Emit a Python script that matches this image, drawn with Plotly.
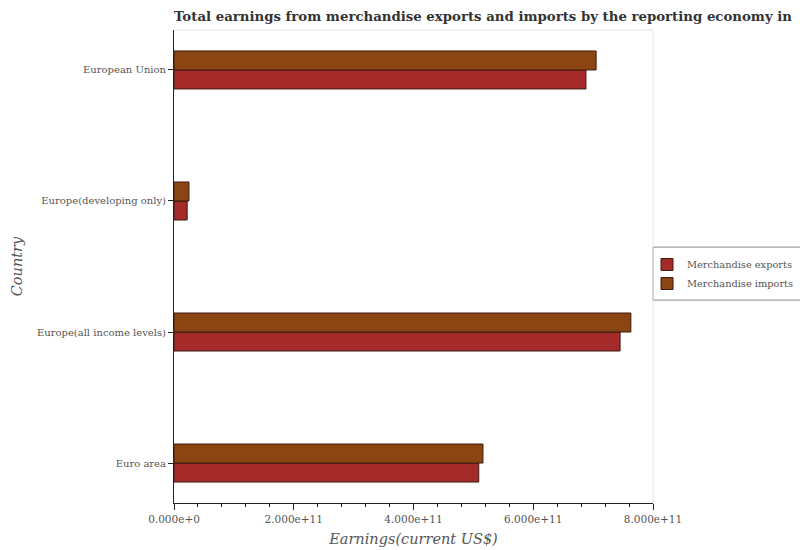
import plotly.graph_objects as go

countries = ['Euro area', 'Europe(all income levels)', 'Europe(developing only)', 'European Union']
exports = [5.09e11, 7.45e11, 0.22e11, 6.88e11]
imports = [5.16e11, 7.63e11, 0.25e11, 7.05e11]

font_family = 'DejaVu Serif'

W, H = 800, 550

fig = go.Figure()

fig.add_trace(go.Bar(
    y=countries,
    x=exports,
    orientation='h',
    name='Merchandise exports',
    marker=dict(color='#A52A2A', line=dict(color='#3a1a10', width=1))
))
fig.add_trace(go.Bar(
    y=countries,
    x=imports,
    orientation='h',
    name='Merchandise imports',
    marker=dict(color='#8B4513', line=dict(color='#3a1a10', width=1))
))

# light frame on top and right edges of the plot area
fig.add_shape(type='line', xref='paper', yref='paper', x0=0, x1=1, y0=1, y1=1,
              line=dict(color='#e6e6e6', width=1))
fig.add_shape(type='line', xref='paper', yref='paper', x0=1, x1=1, y0=0, y1=1,
              line=dict(color='#e6e6e6', width=1))
# legend frame
fig.add_shape(type='rect', xref='paper', yref='paper', x0=1.0, x1=1.35, y0=0.429, y1=0.541,
              line=dict(color='#888888', width=1), fillcolor='rgba(0,0,0,0)', layer='below')

fig.update_layout(
    width=W,
    height=H,
    barmode='group',
    bargap=0.71,
    bargroupgap=0,
    plot_bgcolor='white',
    paper_bgcolor='white',
    font=dict(family=font_family, color='#555555', size=10),
    margin=dict(l=174, r=147, t=30, b=47, autoexpand=False),
    title=dict(
        text='Total earnings from merchandise exports and imports by the reporting economy in',
        font=dict(family=font_family, size=13.3, color='#333333', weight='bold'),
        x=174 / W, xref='container', xanchor='left',
        y=1, yref='container', yanchor='top', pad=dict(t=12)
    ),
    legend=dict(
        x=(647 - 174) / 479, xanchor='left',
        y=(503 - 274) / 473, yanchor='middle',
        bgcolor='rgba(0,0,0,0)',
        borderwidth=0,
        font=dict(family=font_family, size=9.8, color='#555555'),
        itemwidth=30,
        traceorder='normal'
    ),
    xaxis=dict(
        range=[0, 8e11],
        automargin=False,
        tickvals=[0, 2e11, 4e11, 6e11, 8e11],
        tickformat='.3e',
        showgrid=False,
        zeroline=False,
        showline=True, linecolor='#222222', linewidth=1,
        ticks='outside', ticklen=6, tickcolor='#222222',
        minor=dict(dtick=0.4e11, ticks='outside', ticklen=3, tickcolor='#222222'),
        tickfont=dict(family=font_family, size=10.5, color='#555555'),
        title=dict(text='<i>Earnings(current US$)</i>',
                   font=dict(family=font_family, size=14.5, color='#555555'),
                   standoff=10)
    ),
    yaxis=dict(
        range=[-0.305, 3.305],
        automargin=False,
        showgrid=False,
        zeroline=False,
        showline=True, linecolor='#222222', linewidth=1,
        ticks='outside', ticklen=5, tickcolor='#222222',
        tickfont=dict(family=font_family, size=10, color='#555555'),
        title=dict(text='<i>Country</i>',
                   font=dict(family=font_family, size=14.5, color='#555555'),
                   standoff=10)
    )
)

# drop the default page margin so the figure sits at the window's corner
fig.write_html('out.html', config={'displayModeBar': False},
               post_script="document.body.style.margin='0';document.body.style.overflow='hidden';")
